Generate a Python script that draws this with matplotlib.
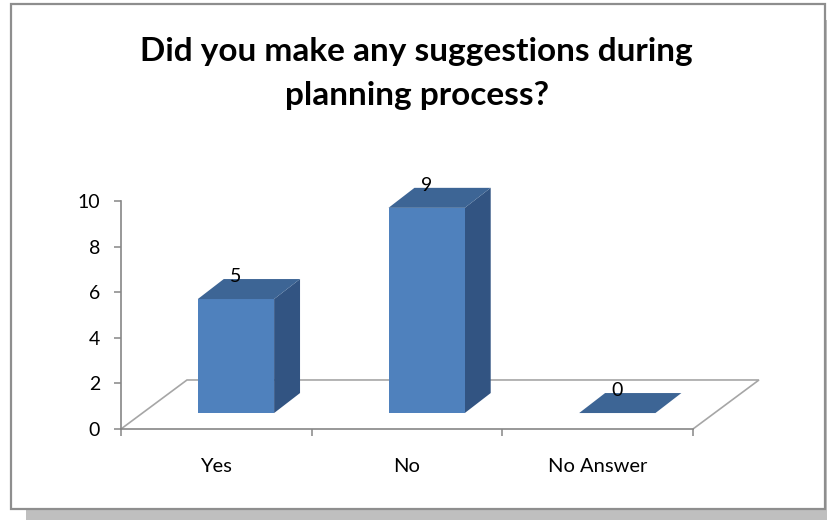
import matplotlib.pyplot as plt
from matplotlib.patches import Polygon, Rectangle

plt.rcParams['font.family'] = ['Lato', 'DejaVu Sans']

categories = ['Yes', 'No', 'No Answer']
counts = [5, 9, 0]
yticks = [0, 2, 4, 6, 8, 10]
title = 'Did you make any suggestions during\nplanning process?'

# 3D look: floor depth, bar offset from the front edge, bar depth
floor_dx, floor_dy = 0.346, 2.15
bar_dx, bar_dy = 0.103, 0.70
depth_dx, depth_dy = 0.136, 0.877
bar_w = 0.4

front_col = '#4f81bd'
top_col = '#3d6595'
side_col = '#325482'
grid_col = '#a6a6a6'
axis_col = '#868686'

fig = plt.figure(figsize=(8.27, 5.20), dpi=100)

# drop shadow and border of the chart area
fig.patches.append(Rectangle((26 / 827, 0), 1, 1 - 20 / 520, transform=fig.transFigure,
                             facecolor='#bfbfbf', edgecolor='none', zorder=-2))
fig.patches.append(Rectangle((11 / 827, 11 / 520), 814 / 827, 505 / 520, transform=fig.transFigure,
                             facecolor='white', edgecolor='#8e8e8e', linewidth=1.6, zorder=-1))

fig.text(0.504, 0.858, title, ha='center', va='center', fontsize=24, fontweight='bold',
         linespacing=1.62, color='black')

ax = fig.add_axes([121 / 827, 91 / 520, 572 / 827, 228 / 520])
ax.set_zorder(2)
ax.set_xlim(0, 3)
ax.set_ylim(0, 10)
ax.patch.set_visible(False)

# floor of the 3D plot
n = len(categories)
floor = [(0, 0), (floor_dx, floor_dy), (n + floor_dx, floor_dy), (n, 0)]
ax.add_patch(Polygon(floor, closed=False, fill=False, edgecolor=grid_col, linewidth=1.2,
                     clip_on=False, zorder=1))

for i, v in enumerate(counts):
    x0 = i + 0.5 + bar_dx - bar_w / 2
    x1 = x0 + bar_w
    y0 = bar_dy
    y1 = bar_dy + v
    top = [(x0, y1), (x0 + depth_dx, y1 + depth_dy), (x1 + depth_dx, y1 + depth_dy), (x1, y1)]
    if v > 0:
        side = [(x1, y0), (x1, y1), (x1 + depth_dx, y1 + depth_dy), (x1 + depth_dx, y0 + depth_dy)]
        ax.add_patch(Polygon(side, facecolor=side_col, edgecolor='none', clip_on=False, zorder=3))
        ax.add_patch(Rectangle((x0, y0), bar_w, v, facecolor=front_col, edgecolor='none',
                               clip_on=False, zorder=3))
    ax.add_patch(Polygon(top, facecolor=top_col, edgecolor='none', clip_on=False, zorder=3))
    ax.text(i + 0.5 + bar_dx, y1 + depth_dy + 0.12, str(v), ha='center', va='center',
            fontsize=14, color='black', zorder=4)

for s in ['top', 'right']:
    ax.spines[s].set_visible(False)
for s in ['left', 'bottom']:
    ax.spines[s].set_color(axis_col)
    ax.spines[s].set_linewidth(1.2)
ax.spines['left'].set_bounds(0, 10)

ax.set_yticks(yticks)
ax.set_yticklabels([str(t) for t in yticks])
ax.tick_params(axis='y', length=5, width=1.1, color=axis_col, pad=10, labelsize=14)

ax.set_xticks(range(n + 1))
ax.set_xticklabels([])
ax.set_xticks([i + 0.5 for i in range(n)], minor=True)
ax.set_xticklabels(categories, minor=True)
ax.tick_params(axis='x', which='major', length=5, width=1.1, color=axis_col)
ax.tick_params(axis='x', which='minor', length=0, pad=21, labelsize=14.5)

plt.savefig('out.png', dpi=100)
